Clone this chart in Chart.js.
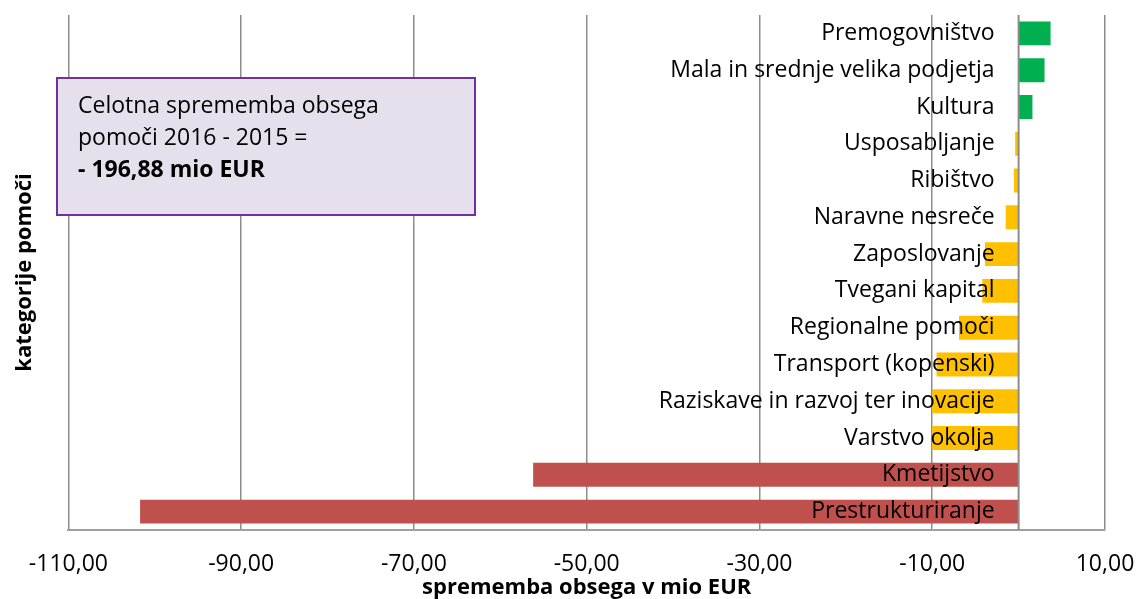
<!DOCTYPE html>
<html>
<head>
<meta charset="utf-8">
<script src="https://cdn.jsdelivr.net/npm/chart.js@4"></script>
<style>
  body { margin: 0; background: #fff; }
  #wrap { width: 1138px; height: 599px; }
</style>
</head>
<body>
<div id="wrap"><canvas id="myChart" width="1138" height="599"></canvas></div>
<script>
// categories, top to bottom
var categories = ['Premogovništvo', 'Mala in srednje velika podjetja', 'Kultura', 'Usposabljanje',
    'Ribištvo', 'Naravne nesreče', 'Zaposlovanje', 'Tvegani kapital', 'Regionalne pomoči',
    'Transport (kopenski)', 'Raziskave in razvoj ter inovacije', 'Varstvo okolja', 'Kmetijstvo',
    'Prestrukturiranje'];
// sprememba obsega 2016 - 2015, mio EUR
var values = [3.7, 3.0, 1.6, -0.4, -0.55, -1.5, -3.9, -4.2, -6.9, -9.5, -10.0, -10.0, -56.2, -101.7];
var xMin = -110, xMax = 10, xStep = 20;
var boxLines = ['Celotna sprememba obsega', 'pomoči 2016 - 2015 =', '- 196,88 mio EUR'];

var FONT = 'Open Sans';

function barColor(v) {
    if (v > 0) return '#00b050';
    if (v < -50) return '#c0504d';
    return '#ffc000';
}

// labels inside plot, zero line and the text box
var extras = {
    id: 'extras',
    afterDatasetsDraw: function (chart) {
        var c = chart.ctx, x = chart.scales.x, y = chart.scales.y, a = chart.chartArea;
        var x0 = x.getPixelForValue(0);
        c.save();
        c.strokeStyle = '#8c8c8c';
        c.lineWidth = 2;
        c.beginPath();
        c.moveTo(x0, a.top);
        c.lineTo(x0, a.bottom);
        c.stroke();

        c.fillStyle = '#000';
        c.font = '23px ' + FONT;
        c.textAlign = 'right';
        c.textBaseline = 'middle';
        categories.forEach(function (name, i) {
            c.fillText(name, x0 - 24, y.getPixelForValue(i));
        });

        // text box
        var bx = 57, by = 78, bw = 418, bh = 137;
        c.fillStyle = '#e6e0ec';
        c.fillRect(bx, by, bw, bh);
        c.strokeStyle = '#7030a0';
        c.lineWidth = 2;
        c.strokeRect(bx, by, bw, bh);
        c.fillStyle = '#000';
        c.textAlign = 'left';
        boxLines.forEach(function (t, i) {
            c.font = (i === 2 ? 'bold ' : '') + '23px ' + FONT;
            c.fillText(t, bx + 21, by + 28 + i * 32);
        });
        c.restore();
    }
};

var ctx = document.getElementById('myChart').getContext('2d');
var chart = new Chart(ctx, {
    type: 'bar',
    data: {
        labels: categories,
        datasets: [{
            data: values,
            backgroundColor: values.map(barColor),
            borderWidth: 0,
            barPercentage: 0.65,
            categoryPercentage: 1
        }]
    },
    options: {
        indexAxis: 'y',
        responsive: false,
        animation: false,
        layout: { padding: { top: 15, right: 33, left: 0, bottom: 0 } },
        plugins: { legend: { display: false }, tooltip: { enabled: false } },
        scales: {
            x: {
                min: xMin,
                max: xMax,
                afterFit: function (scale) {
                    // let the end tick labels overhang the plot, as in the original
                    scale.paddingLeft = 0;
                    scale.paddingRight = 0;
                },
                ticks: {
                    stepSize: xStep,
                    color: '#000',
                    font: { family: FONT, size: 23 },
                    padding: 21,
                    maxRotation: 0,
                    callback: function (v) { return v.toFixed(2).replace('.', ','); }
                },
                grid: { color: '#8c8c8c', lineWidth: 1.5, drawTicks: false },
                border: { display: true, color: '#a0a0a0', width: 2 },
                title: {
                    display: true,
                    text: 'sprememba obsega v mio EUR',
                    color: '#000',
                    font: { family: FONT, size: 22, weight: 'bold' },
                    padding: { top: -25, bottom: -2 }
                }
            },
            y: {
                ticks: { display: false },
                grid: { display: false, drawTicks: false },
                border: { display: false },
                title: {
                    display: true,
                    text: 'kategorije pomoči',
                    color: '#000',
                    font: { family: FONT, size: 22, weight: 'bold' },
                    padding: { top: 12, bottom: 30 }
                }
            }
        }
    },
    plugins: [extras]
});
</script>
</body>
</html>
